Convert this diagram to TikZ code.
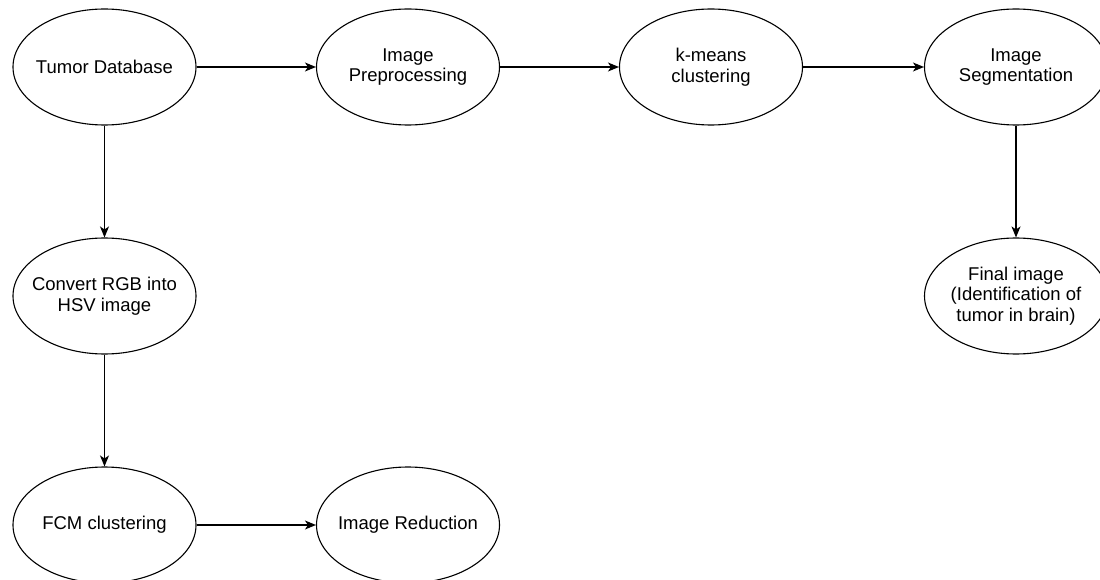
\documentclass[tikz,border=0pt]{standalone}
\usepackage{fontspec}
\setmainfont{Liberation Sans}
\usetikzlibrary{arrows.meta, shapes.geometric}

\begin{document}
\begin{tikzpicture}[x=1pt, y=-1pt,
    every node/.style={draw, ellipse, line width=1.1pt, minimum width=183pt, minimum height=116pt,
        inner xsep=-15pt, inner ysep=0pt, align=center, font=\fontsize{18.5}{20.5}\selectfont},
    flow/.style={line width=1.1pt, -{Stealth[length=11pt, width=9pt, inset=3pt]}}]
    \useasboundingbox (0,0) rectangle (1100,580);

    % Top row
    \node (tumor) at (104.5,67) {Tumor Database};
    \node (prep) at (408,67) {Image\\Preprocessing};
    \node (kmeans) at (711,67) {k-means\\clustering};
    \node (seg) at (1016,67) {Image\\Segmentation};

    % Middle row
    \node (hsv) at (104.5,296) {Convert RGB into\\HSV image};
    \node (final) at (1016,296) {Final image\\(Identification of\\tumor in brain)};

    % Bottom row
    \node (fcm) at (104.5,525) {FCM clustering};
    \node (reduce) at (408,525) {Image Reduction};

    % Edges
    \draw[flow] (tumor) -- (prep);
    \draw[flow] (prep) -- (kmeans);
    \draw[flow] (kmeans) -- (seg);
    \draw[flow] (seg) -- (final);
    \draw[flow] (tumor) -- (hsv);
    \draw[flow] (hsv) -- (fcm);
    \draw[flow] (fcm) -- (reduce);
\end{tikzpicture}
\end{document}
